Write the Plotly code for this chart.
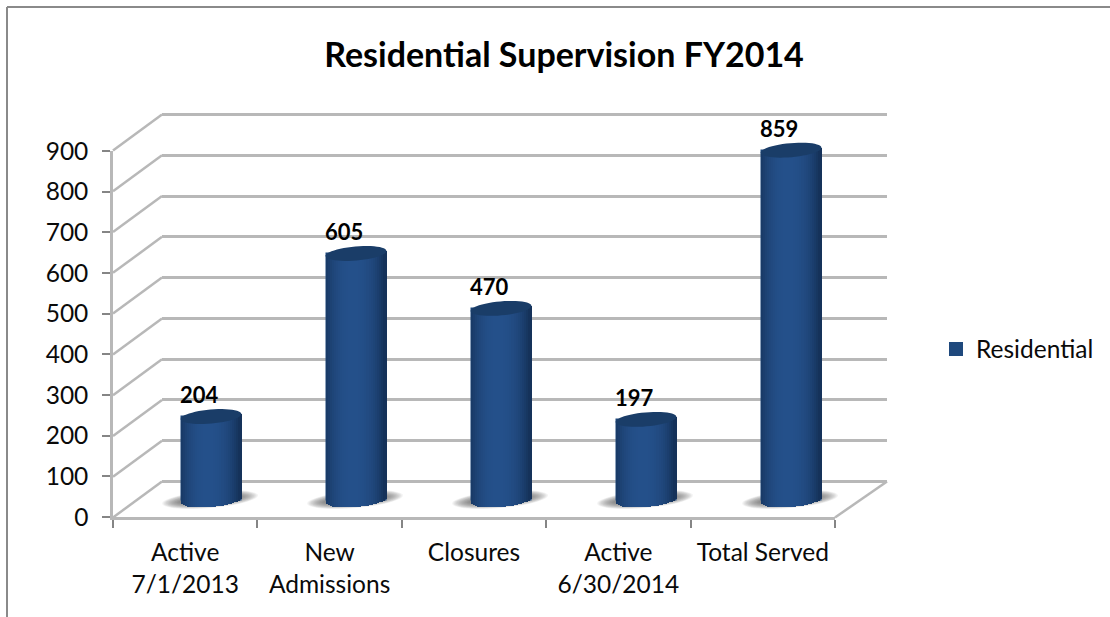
import math
import plotly.graph_objects as go

categories = ["Active<br>7/1/2013", "New<br>Admissions", "Closures", "Active<br>6/30/2014", "Total Served"]
residential = [204, 605, 470, 197, 859]
y_ticks = [0, 100, 200, 300, 400, 500, 600, 700, 800, 900]
title_text = "Residential Supervision FY2014"
series_name = "Residential"

W, H = 1110, 617
FONT = "Lato"
TXT = "#0a0a0a"
GRID = "#b8b8b8"
TICK = "#858585"
UNIT = 366 / 900  # px per value unit
BAR_W = 61 / 145  # bar width in category units
PX_CAT = 145
A, B, TILT = 30.5, 7.0, math.radians(5)

def xd(a, b):
    return [a / W, b / W]

def yd(top, bottom):
    return [1 - bottom / H, 1 - top / H]

def ellipse(a, b, dx=0.0, dy=0.0, n=48):
    pts = []
    for k in range(n):
        t = 2 * math.pi * k / n
        ex, ey = a * math.cos(t), b * math.sin(t)
        pts.append((dx + ex * math.cos(TILT) - ey * math.sin(TILT),
                    dy + ex * math.sin(TILT) + ey * math.cos(TILT)))
    return "M" + " L".join(f"{x:.2f},{y:.2f}" for x, y in pts) + " Z"

def mix(c1, c2, t):
    return "#" + "".join(f"{round(p + (q - p) * t):02x}" for p, q in zip(c1, c2))

DARK, LIGHT = (0x15, 0x32, 0x5a), (0x24, 0x50, 0x8a)
idx = list(range(len(categories)))
fig = go.Figure()

# back wall gridlines (first subplot: drawn lowest)
fig.add_trace(go.Scatter(x=[0], y=[0], xaxis="x", yaxis="y", mode="none", showlegend=False, hoverinfo="skip"))
# front axes
fig.add_trace(go.Scatter(x=categories, y=[None] * 5, xaxis="x2", yaxis="y2", mode="none", showlegend=False, hoverinfo="skip"))
# main series
fig.add_trace(go.Bar(x=idx, y=residential, name=series_name, xaxis="x3", yaxis="y3",
                     width=BAR_W - 2 / PX_CAT, marker=dict(color="#1F497D", line=dict(width=2, color="#1F497D"))))
# cylinder shading strips
N = 30
for s in range(N):
    t = -1 + (2 * s + 1) / N
    dx = t * A
    low = (B * math.sqrt(max(0, 1 - t * t)) + dx * math.tan(-TILT)) / UNIT
    top = dx * math.tan(TILT) / UNIT
    shade = max(0.0, 1 - abs(t + 0.1) ** 2.4)
    fig.add_trace(go.Bar(x=idx, y=[v + low + top for v in residential], base=[-low] * 5,
                         xaxis="x3", yaxis="y3", showlegend=False, hoverinfo="skip",
                         width=BAR_W / N * 1.25, offset=t * BAR_W / 2 - BAR_W / N * 0.6,
                         marker=dict(color=mix(DARK, LIGHT, shade), line=dict(width=0))))

shapes = []
# frame: top edge and left edge only
for x0, y0, x1, y1 in [(7, 7, 1110, 7), (7, 7, 7, 617)]:
    shapes.append(dict(type="line", xref="paper", yref="paper", x0=x0 / W, x1=x1 / W,
                       y0=1 - y0 / H, y1=1 - y1 / H, line=dict(color="#8a8a8a", width=2), layer="below"))
# side-wall diagonals from the back wall down to the front axis
for v in y_ticks:
    shapes.append(dict(type="line", xref="paper", yref="y", ysizemode="pixel",
                       yanchor=v, x0=113 / W, x1=162 / W, y0=-36, y1=0,
                       line=dict(color=GRID, width=2.5), layer="below"))
shapes.append(dict(type="line", xref="paper", yref="y", ysizemode="pixel",
                   yanchor=0, x0=835 / W, x1=887 / W, y0=-36, y1=0,
                   line=dict(color=GRID, width=2.5), layer="below"))
# floor shadows, bar tops
for i, v in enumerate(residential):
    for k in range(14):
        shapes.append(dict(type="path", xref="x3", yref="y3", xsizemode="pixel", ysizemode="pixel",
                           xanchor=i, yanchor=0, path=ellipse(48 - 1.3 * k, 8.5 - 0.4 * k, -1, 0),
                           fillcolor="#5a5a5a", opacity=0.07, line=dict(width=0), layer="below"))
    shapes.append(dict(type="path", xref="x3", yref="y3", xsizemode="pixel", ysizemode="pixel",
                       xanchor=i, yanchor=v, path=ellipse(A, B),
                       fillcolor="#1a3d68", line=dict(width=0), layer="above"))

annotations = [dict(x=i, y=v, xref="x3", yref="y3", text=f"<b>{v}</b>", showarrow=False,
                    xshift=-12, yshift=22, font=dict(family=FONT, size=22, color="#000000"))
               for i, v in enumerate(residential)]

tickfont = dict(family=FONT, size=24.5, color=TXT)
fig.update_layout(
    width=W, height=H, margin=dict(l=0, r=0, t=0, b=0, autoexpand=False),
    paper_bgcolor="white", plot_bgcolor="rgba(0,0,0,0)",
    barmode="overlay", bargap=0,
    title=dict(text=f"<b>{title_text}</b>", x=564 / W, xanchor="center", xref="paper",
               y=1 - 55 / H, yanchor="middle", font=dict(family=FONT, size=34, color="#000000")),
    legend=dict(x=936 / W, y=1 - 349 / H, xanchor="left", yanchor="middle",
                font=dict(family=FONT, size=24.5, color=TXT), bgcolor="rgba(0,0,0,0)"),
    xaxis=dict(domain=xd(162, 887), range=[0, 1], visible=False, fixedrange=True),
    yaxis=dict(domain=yd(114.5 - 50 * 367 / 900, 481.5 + 100 * 367 / 900), range=[-100, 950], anchor="x",
               tickvals=y_ticks, showticklabels=False,
               showgrid=True, gridcolor=GRID, gridwidth=2.5, zeroline=False, showline=False, ticks=""),
    xaxis2=dict(domain=xd(113, 835), anchor="y2", type="category", categoryorder="array", categoryarray=categories,
                range=[-0.5, 4.5], tickson="boundaries", ticks="outside", ticklen=8, tickwidth=1.5, tickcolor=TICK,
                showline=True, linecolor=GRID, linewidth=2.5, showgrid=False, tickfont=tickfont,
                ticklabelstandoff=12),
    yaxis2=dict(domain=yd(151, 517), anchor="x2", range=[0, 900], tickvals=y_ticks, ticks="outside", ticklen=8,
                tickwidth=1.5, tickcolor=TICK, showline=True, linecolor=GRID, linewidth=2.5, showgrid=False,
                zeroline=False, tickfont=tickfont, ticklabelstandoff=9),
    xaxis3=dict(domain=xd(138.5, 863.5), anchor="y3", range=[-0.5, 4.5], visible=False),
    yaxis3=dict(domain=yd(133.5, 133.5 + 366 * 1000 / 900), anchor="x3", range=[-100, 900], visible=False),
    shapes=shapes, annotations=annotations,
)
fig.write_html("out.html", config=dict(displayModeBar=False), post_script="document.body.style.margin='0';")
